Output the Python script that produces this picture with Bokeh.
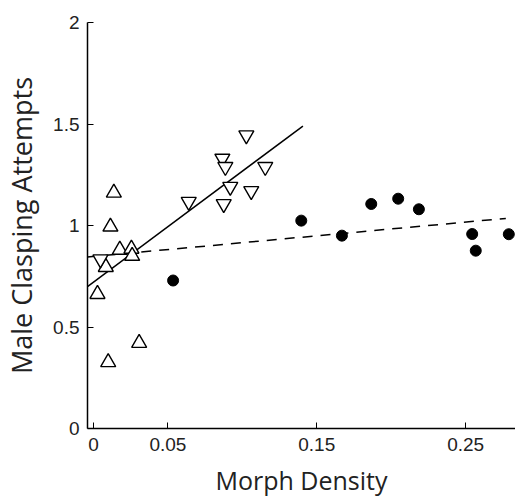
from bokeh.plotting import figure
from bokeh.models import Range1d, FixedTicker
from bokeh.embed import file_html
from bokeh.resources import INLINE

# Data
up_x = [0.0137, 0.0114, 0.0177, 0.0255, 0.026, 0.0083, 0.0027, 0.0307, 0.0099]
up_y = [1.161, 0.994, 0.880, 0.885, 0.850, 0.795, 0.662, 0.421, 0.326]

down_x = [0.0047, 0.064, 0.0866, 0.0886, 0.0919, 0.0875, 0.1027, 0.106, 0.1154]
down_y = [0.834, 1.117, 1.330, 1.289, 1.191, 1.106, 1.445, 1.170, 1.289]

circ_x = [0.0535, 0.1396, 0.1669, 0.1866, 0.2047, 0.2186, 0.2544, 0.2568, 0.279]
circ_y = [0.729, 1.024, 0.950, 1.106, 1.132, 1.080, 0.958, 0.876, 0.957]

solid_x = [-0.004, 0.1407]
solid_y = [0.699, 1.490]
dash_x = [-0.004, 0.277]
dash_y = [0.845, 1.035]

x_ticks = [0, 0.05, 0.15, 0.25]
x_labels = ["0", "0.05", "0.15", "0.25"]
y_ticks = [0, 0.5, 1, 1.5, 2]
y_labels = ["0", "0.5", "1", "1.5", "2"]

p = figure(width=515, height=499, output_backend="svg", toolbar_location=None,
           x_range=Range1d(-0.004, 0.2835), y_range=Range1d(0, 2))
p.min_border_left = 86
p.min_border_right = 0
p.min_border_top = 22
p.min_border_bottom = 70
p.outline_line_color = None
p.grid.visible = False
p.background_fill_color = "white"
p.border_fill_color = "white"

p.line(solid_x, solid_y, line_color="black", line_width=1.5)
p.line(dash_x, dash_y, line_color="black", line_width=1.5, line_dash="10 8")

p.scatter(up_x, up_y, marker="triangle", size=15, fill_color="white",
          line_color="black", line_width=1.4)
p.scatter(down_x, down_y, marker="inverted_triangle", size=15, fill_color="white",
          line_color="black", line_width=1.4)
p.scatter(circ_x, circ_y, marker="circle", size=11, fill_color="black",
          line_color="black")

for ax in (p.xaxis[0], p.yaxis[0]):
    ax.axis_line_color = "black"
    ax.axis_line_width = 1.5
    ax.major_tick_in = 6
    ax.major_tick_out = 0
    ax.minor_tick_in = 0
    ax.minor_tick_out = 0
    ax.major_tick_line_color = "black"
    ax.major_label_text_font = "Liberation Sans"
    ax.major_label_text_font_size = "19px"
    ax.major_label_text_color = "#222222"
    ax.axis_label_text_font = "Open Sans"
    ax.axis_label_text_font_style = "normal"
    ax.axis_label_text_color = "#222222"

p.xaxis.axis_label_text_font_size = "25px"
p.yaxis.axis_label_text_font_size = "27px"
p.xaxis.ticker = FixedTicker(ticks=x_ticks)
p.xaxis.major_label_overrides = {t: l for t, l in zip(x_ticks, x_labels)}
p.yaxis.ticker = FixedTicker(ticks=y_ticks)
p.yaxis.major_label_overrides = {t: l for t, l in zip(y_ticks, y_labels)}
p.xaxis.axis_label = "Morph Density"
p.yaxis.axis_label = "Male Clasping Attempts"
p.xaxis.major_label_standoff = 9
p.yaxis.major_label_standoff = 8
p.xaxis.axis_label_standoff = 9
p.yaxis.axis_label_standoff = 10

open("out.html", "w").write(file_html(p, INLINE))
